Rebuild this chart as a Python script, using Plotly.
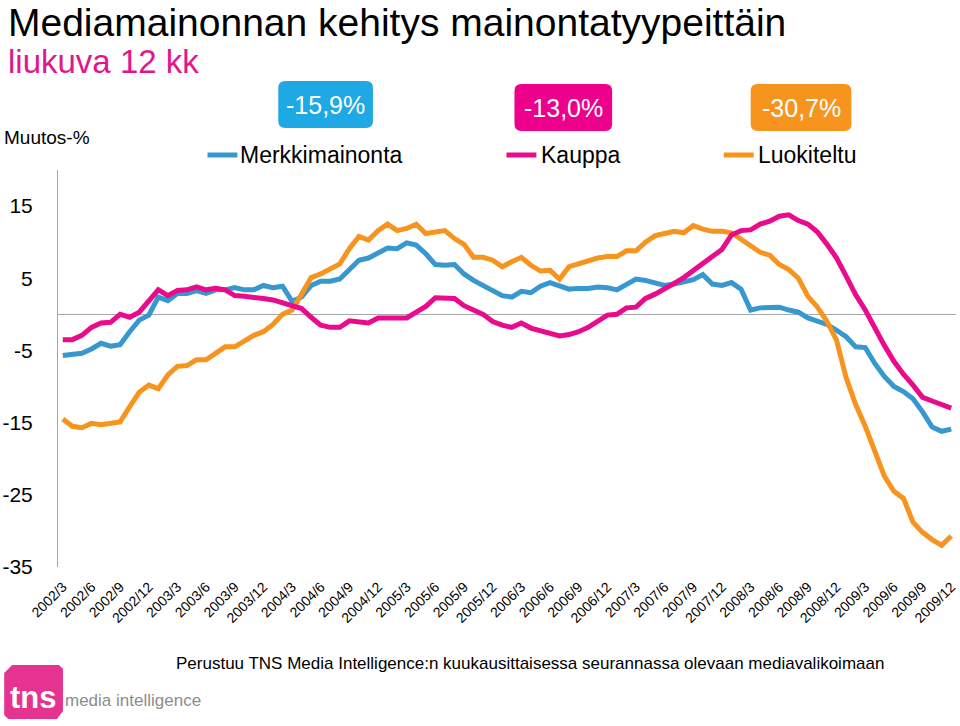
import plotly.graph_objects as go

# ---------------- data ----------------
years = list(range(2002, 2010))
months = [f"{y}/{m}" for y in years for m in range(1, 13)][2:]  # 2002/3 ... 2009/12

tick_labels = ["2002/3", "2002/6", "2002/9", "2002/12", "2003/3", "2003/6", "2003/9", "2003/12",
               "2004/3", "2004/6", "2004/9", "2004/12", "2005/3", "2005/6", "2005/9", "2005/12",
               "2006/3", "2006/6", "2006/9", "2006/12", "2007/3", "2007/6", "2007/9", "2007/12",
               "2008/3", "2008/6", "2008/9", "2008/12", "2009/3", "2009/6", "2009/9", "2009/12"]

merkkimainonta = [-5.7, -5.6, -5.4, -4.8, -4.0, -4.4, -4.2, -2.4, -0.8, -0.1,
                  2.4, 1.9, 2.9, 2.9, 3.3, 2.9, 3.4, 3.4, 3.7, 3.4,
                  3.4, 4.0, 3.7, 3.9, 1.8, 2.4, 4.0, 4.6, 4.6, 4.9,
                  6.3, 7.5, 7.8, 8.5, 9.2, 9.1, 9.9, 9.6, 8.4, 6.9,
                  6.8, 6.9, 5.6, 4.7, 4.0, 3.4, 2.6, 2.4, 3.2, 3.0,
                  3.9, 4.4, 3.9, 3.5, 3.6, 3.6, 3.8, 3.7, 3.4, 4.1,
                  4.9, 4.7, 4.3, 4.0, 4.2, 4.5, 4.8, 5.5, 4.2, 4.0,
                  4.4, 3.5, 0.6, 0.9, 0.9, 1.0, 0.6, 0.3, -0.5, -0.9,
                  -1.4, -2.2, -3.1, -4.5, -4.6, -6.8, -8.6, -10.0, -10.7, -11.7,
                  -13.5, -15.6, -16.2, -15.9]

kauppa = [-3.5, -3.5, -2.9, -1.8, -1.2, -1.1, 0.0, -0.4, 0.3, 1.9,
          3.4, 2.6, 3.3, 3.4, 3.8, 3.4, 3.6, 3.4, 2.6, 2.5,
          2.4, 2.2, 2.0, 1.6, 1.3, 0.8, -0.4, -1.5, -1.8, -1.8,
          -0.9, -1.1, -1.2, -0.5, -0.5, -0.6, -0.5, 0.3, 1.1, 2.3,
          2.3, 2.2, 1.2, 0.6, 0.0, -1.0, -1.5, -1.8, -1.2, -1.9,
          -2.3, -2.6, -3.0, -2.8, -2.4, -1.8, -1.0, -0.1, 0.0, 0.9,
          1.0, 2.2, 2.8, 3.5, 4.3, 5.1, 6.1, 7.1, 8.1, 9.0,
          11.0, 11.6, 11.7, 12.5, 12.9, 13.6, 13.8, 13.0, 12.5, 11.4,
          9.7, 7.8, 5.3, 2.7, 0.6, -1.9, -4.3, -6.5, -8.3, -9.8,
          -11.5, -12.0, -12.5, -13.0]

luokiteltu = [-14.5, -15.5, -15.7, -15.1, -15.3, -15.1, -14.9, -12.8, -10.8, -9.8,
              -10.3, -8.4, -7.2, -7.1, -6.3, -6.3, -5.4, -4.5, -4.5, -3.6,
              -2.9, -2.4, -1.4, 0.0, 0.6, 2.8, 5.1, 5.6, 6.3, 7.0,
              9.1, 10.8, 10.3, 11.6, 12.5, 11.6, 11.9, 12.5, 11.2, 11.4,
              11.6, 10.5, 9.7, 7.9, 7.9, 7.5, 6.6, 7.3, 7.9, 6.8,
              6.0, 6.1, 4.9, 6.6, 7.0, 7.5, 7.8, 8.0, 8.0, 8.8,
              8.8, 10.0, 10.9, 11.2, 11.5, 11.3, 12.3, 11.8, 11.5, 11.5,
              11.3, 10.4, 9.6, 8.6, 8.2, 6.9, 6.2, 5.0, 2.5, 1.0,
              -1.0, -3.6, -8.8, -12.5, -15.5, -19.0, -22.4, -24.5, -25.5, -28.8,
              -30.2, -31.2, -32.0, -30.7]

series_names = ["Merkkimainonta", "Kauppa", "Luokiteltu"]
badge_texts = ["-15,9%", "-13,0%", "-30,7%"]
y_ticks = [15, 5, -5, -15, -25, -35]

# ---------------- style ----------------
FONT = "Liberation Sans, Arial, Helvetica, sans-serif"
C_BLUE = "#3797cf"
C_PINK = "#ea0a8c"
C_ORANGE = "#f7941d"
C_BADGE_BLUE = "#1ea8e4"
C_BADGE_PINK = "#ec008c"
C_BADGE_ORANGE = "#f7941d"
AXIS_GRAY = "#a6a6a6"

W_PX, H_PX = 960, 726
L, R, T, B = 57, 958, 170, 567


def px(x):
    return (x - L) / (R - L)


def py(y):
    return (B - y) / (B - T)


def rrect(x0, y0, x1, y1, r):
    pts = [
        ("M", [(x0 + r, y0)]),
        ("L", [(x1 - r, y0)]),
        ("Q", [(x1, y0), (x1, y0 + r)]),
        ("L", [(x1, y1 - r)]),
        ("Q", [(x1, y1), (x1 - r, y1)]),
        ("L", [(x0 + r, y1)]),
        ("Q", [(x0, y1), (x0, y1 - r)]),
        ("L", [(x0, y0 + r)]),
        ("Q", [(x0, y0), (x0 + r, y0)]),
    ]
    s = ""
    for cmd, ps in pts:
        s += cmd + " " + " ".join(f"{px(a):.5f},{py(b):.5f}" for a, b in ps) + " "
    return s + "Z"


def poly(points):
    s = "M " + " L ".join(f"{px(a):.5f},{py(b):.5f}" for a, b in points)
    return s + " Z"


fig = go.Figure()
for name, vals, col in [(series_names[0], merkkimainonta, C_BLUE),
                        (series_names[2], luokiteltu, C_ORANGE),
                        (series_names[1], kauppa, C_PINK)]:
    fig.add_trace(go.Scatter(x=months, y=vals, mode="lines", name=name,
                             line=dict(color=col, width=5), showlegend=False))

shapes = []
annotations = []

# badges
badges = [((278, 81, 373, 128), C_BADGE_BLUE, badge_texts[0]),
          ((515, 84, 613, 131), C_BADGE_PINK, badge_texts[1]),
          ((752, 84, 853, 131), C_BADGE_ORANGE, badge_texts[2])]
for (x0, y0, x1, y1), col, txt in badges:
    shapes.append(dict(type="path", xref="paper", yref="paper", path=rrect(x0, y0, x1, y1, 7),
                       fillcolor=col, line=dict(width=0), layer="above"))
    annotations.append(dict(xref="paper", yref="paper", x=px((x0 + x1) / 2), y=py((y0 + y1) / 2 + 1),
                            text=txt, showarrow=False, xanchor="center", yanchor="middle",
                            font=dict(family=FONT, size=25, color="white")))

# legend
legend_items = [(207, 237, 238, C_BLUE, series_names[0]),
                (507, 537, 540, C_PINK, series_names[1]),
                (725, 755, 757, C_ORANGE, series_names[2])]
for lx0, lx1, tx, col, txt in legend_items:
    shapes.append(dict(type="line", xref="paper", yref="paper", x0=px(lx0), x1=px(lx1),
                       y0=py(155), y1=py(155), line=dict(color=col, width=5), layer="above"))
    annotations.append(dict(xref="paper", yref="paper", x=px(tx), y=py(155), text=txt,
                            showarrow=False, xanchor="left", yanchor="middle",
                            font=dict(family=FONT, size=23, color="black")))

# titles
annotations.append(dict(xref="paper", yref="paper", x=px(5), y=py(22),
                        text="Mediamainonnan kehitys mainontatyypeittäin", showarrow=False,
                        xanchor="left", yanchor="middle", font=dict(family=FONT, size=39, color="black")))
annotations.append(dict(xref="paper", yref="paper", x=px(5), y=py(62),
                        text="liukuva 12 kk", showarrow=False,
                        xanchor="left", yanchor="middle", font=dict(family=FONT, size=33, color="#e2168c")))
annotations.append(dict(xref="paper", yref="paper", x=px(1), y=py(137.5),
                        text="Muutos-%", showarrow=False,
                        xanchor="left", yanchor="middle", font=dict(family=FONT, size=19, color="black")))
annotations.append(dict(xref="paper", yref="paper", x=px(173), y=py(663),
                        text="Perustuu TNS Media Intelligence:n kuukausittaisessa seurannassa olevaan mediavalikoimaan",
                        showarrow=False, xanchor="left", yanchor="middle",
                        font=dict(family=FONT, size=17, color="black")))

# logo
shapes.append(dict(type="path", xref="paper", yref="paper",
                   path=poly([(11, 665), (58, 665), (62, 669), (62, 711), (56, 719),
                              (7, 719), (3, 715), (3, 673)]),
                   fillcolor="#e6338f", line=dict(width=0), layer="above"))
annotations.append(dict(xref="paper", yref="paper", x=px(7), y=py(697), text="<b>tns</b>",
                        showarrow=False, xanchor="left", yanchor="middle",
                        font=dict(family=FONT, size=31, color="white")))
annotations.append(dict(xref="paper", yref="paper", x=px(62), y=py(700), text="media intelligence",
                        showarrow=False, xanchor="left", yanchor="middle",
                        font=dict(family=FONT, size=17, color="#8c8c8c")))

fig.update_layout(
    width=W_PX, height=H_PX, autosize=False,
    margin=dict(l=L, r=W_PX - R, t=T, b=H_PX - B, pad=0),
    paper_bgcolor="white", plot_bgcolor="white",
    font=dict(family=FONT, color="black"),
    shapes=shapes, annotations=annotations,
    showlegend=False,
    xaxis=dict(type="category", range=[-0.5, len(months) - 0.5], showgrid=False, zeroline=False,
               showline=False, ticks="", tickmode="array", tickvals=tick_labels, ticktext=tick_labels,
               tickangle=-45, tickfont=dict(family=FONT, size=14, color="black"),
               ticklabelstandoff=8),
    yaxis=dict(range=[-35, 20], showgrid=False, zeroline=True, zerolinecolor=AXIS_GRAY, zerolinewidth=1,
               showline=True, linecolor=AXIS_GRAY, linewidth=1, ticks="", tickmode="array",
               tickvals=y_ticks, ticktext=[str(v) for v in y_ticks],
               tickfont=dict(family=FONT, size=21, color="black"), ticklabelstandoff=20),
)

fig.write_html("out.html", config={"displayModeBar": False},
               post_script="document.body.style.margin='0px';")
